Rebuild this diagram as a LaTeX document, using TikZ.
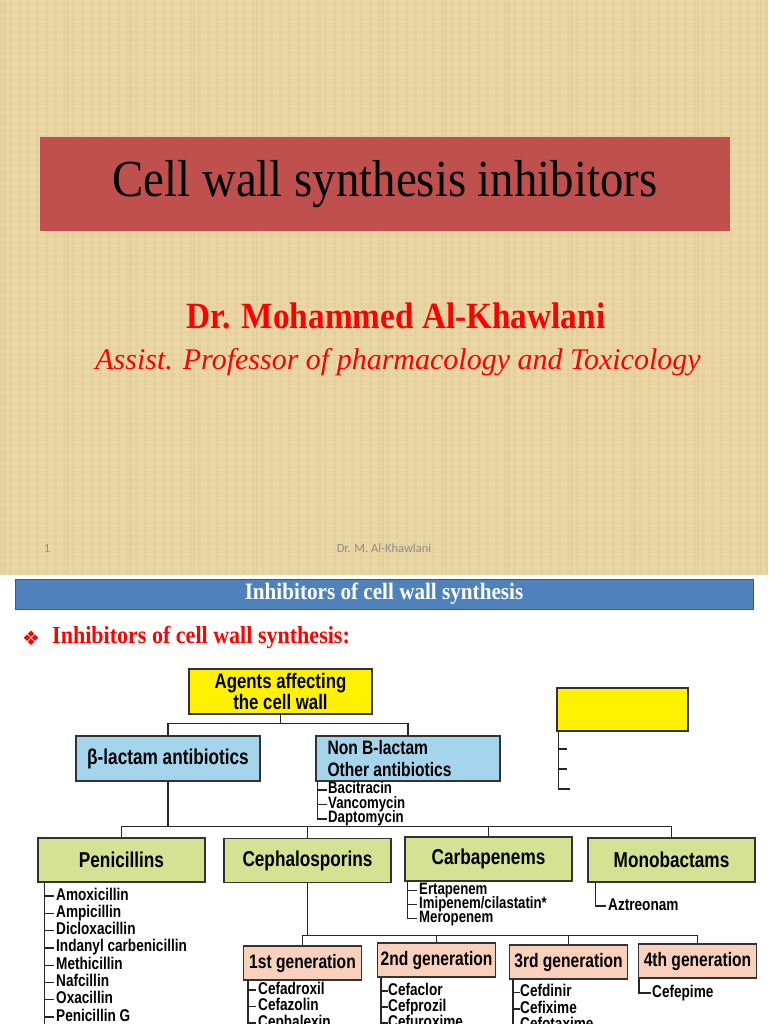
\documentclass[tikz,border=0pt]{standalone}
\usepackage{fontspec}
\setmainfont{Liberation Serif}
\newfontfamily\chartfont[FakeStretch=0.8]{Liberation Sans}
\newfontfamily\narrowserif[FakeStretch=0.9]{Liberation Serif}
\newfontfamily\dingfont{DejaVu Sans}
\newfontfamily\footfont{Carlito}

\definecolor{papyrus}{HTML}{E9D5A1}
\definecolor{papyrusdark}{HTML}{C9AB72}
\definecolor{titlered}{HTML}{C0504D}
\definecolor{bannerblue}{HTML}{4F81BD}
\definecolor{rootyellow}{HTML}{FFF200}
\definecolor{classblue}{HTML}{A5D5EC}
\definecolor{groupgreen}{HTML}{D5E193}
\definecolor{gensalmon}{HTML}{F9D0BC}
\definecolor{footgray}{HTML}{8C8C8C}

\tikzset{
  boxbase/.style={draw=black!80, line width=1.3pt, inner sep=0pt, align=center},
  rootbox/.style={boxbase, fill=rootyellow, minimum width=183pt, minimum height=45pt,
    font=\chartfont\bfseries\fontsize{21}{19}\selectfont},
  classbox/.style={boxbase, fill=classblue, minimum width=184pt, minimum height=45pt,
    font=\chartfont\bfseries\fontsize{21.5}{22}\selectfont},
  groupbox/.style={boxbase, fill=groupgreen, minimum width=167pt, minimum height=44pt,
    font=\chartfont\bfseries\fontsize{21.5}{22}\selectfont},
  genbox/.style={boxbase, fill=gensalmon, minimum width=118pt, minimum height=34pt,
    font=\chartfont\bfseries\fontsize{19.5}{20}\selectfont},
  drug/.style={anchor=west, inner xsep=2pt, inner ysep=0pt, text height=11pt, text depth=3pt,
    font=\chartfont\bfseries\fontsize{17}{17}\selectfont},
  wire/.style={line width=1.3pt, draw=black!85},
}

\begin{document}
\begin{tikzpicture}[x=1pt, y=-1pt]
    \useasboundingbox (0,0) rectangle (768,1024);
    \clip (0,0) rectangle (768,1024);

    % title slide
    \fill[papyrus] (0,0) rectangle (768,575);
    \foreach \x in {0,9,...,765} \fill[papyrusdark, opacity=0.10] (\x,0) rectangle ++(3,575);
    \foreach \x in {4,67,...,768} \fill[papyrusdark, opacity=0.20] (\x,0) rectangle ++(2,575);
    \foreach \y in {0,7,...,575} \fill[white, opacity=0.08] (0,\y) rectangle ++(768,2);

    \node[fill=titlered, minimum width=690pt, minimum height=94pt, font=\narrowserif\fontsize{52}{54}\selectfont] (title) at (385,184) {Cell wall synthesis inhibitors};
    \node[text=red, font=\narrowserif\bfseries\fontsize{37}{40}\selectfont] (author) at (396,316) {Dr. Mohammed Al-Khawlani};
    \node[text=red, font=\itshape\fontsize{30}{32}\selectfont] (position) at (398,362) {Assist. Professor of pharmacology and Toxicology};
    \node[text=footgray, font=\footfont\fontsize{12.5}{14}\selectfont] (pagenum) at (47,548) {1};
    \node[text=footgray, font=\footfont\fontsize{12.5}{14}\selectfont] (footer) at (384,548) {Dr. M. Al-Khawlani};

    % second slide
    \fill[white] (0,575) rectangle (768,1024);
    \node[fill=bannerblue, draw=bannerblue!70!black, line width=0.8pt, minimum width=738pt, minimum height=30pt,
      text=white, font=\narrowserif\bfseries\fontsize{23.5}{25}\selectfont] (banner) at (384,594) {Inhibitors of cell wall synthesis};
    \node[text=red, font=\dingfont\fontsize{20}{20}\selectfont] (bullet) at (31,638) {❖};
    \node[anchor=west, inner sep=0pt, text=red, font=\narrowserif\bfseries\fontsize{24.5}{26}\selectfont] (subhead) at (52,638) {Inhibitors of cell wall synthesis:};

    % tree
    \node[rootbox] (agents) at (280.5,691.5) {Agents affecting\\the cell wall};
    \node[rootbox, minimum width=131pt, minimum height=43pt] (blank) at (622.5,709.5) {};
    \node[classbox] (blactam) at (168,758.5) {β-lactam antibiotics};
    \node[classbox] (nonblac) at (408,758.5) {};
    \node[anchor=west, inner sep=0pt, align=left, font=\chartfont\bfseries\fontsize{19.5}{21.5}\selectfont] (nonblactext) at ([xshift=12pt]nonblac.west) {Non B-lactam\\Other antibiotics};

    \node[groupbox] (pen) at (121.5,860) {Penicillins};
    \node[groupbox] (ceph) at (307.5,860.5) {Cephalosporins};
    \node[groupbox] (carb) at (488.5,859) {Carbapenems};
    \node[groupbox] (mono) at (671.5,860) {Monobactams};

    \node[genbox] (gen1) at (302.5,963) {1st generation};
    \node[genbox] (gen2) at (436.5,960) {2nd generation};
    \node[genbox] (gen3) at (568.5,962) {3rd generation};
    \node[genbox] (gen4) at (697.5,961) {4th generation};

    \draw[wire] (agents.south) -- ++(0,9) coordinate (topbus);
    \foreach \b in {blactam,nonblac} \draw[wire] (topbus) -| (\b.north);
    \draw[wire] (blactam.south) -- ++(0,45) coordinate (groupbus);
    \foreach \g in {pen,ceph,carb,mono} \draw[wire] (groupbus) -| (\g.north);
    \draw[wire] (ceph.south) -- ++(0,52) coordinate (genbus);
    \foreach \g in {gen1,gen2,gen3,gen4} \draw[wire] (genbus) -| (\g.north);

    % empty list under the blank box
    \coordinate (blank1) at (567,749);
    \coordinate (blank2) at (567,769);
    \coordinate (blank3) at (570,789);
    \foreach \c in {blank1,blank2,blank3} \draw[wire] (blank.south west) ++(2,0) |- (\c);

    % drug lists
    \foreach \nm/\txt [count=\i] in {baci/Bacitracin, vanco/Vancomycin, dapto/Daptomycin} {
        \node[drug, inner xsep=1pt, text height=10pt, text depth=3pt, font=\chartfont\bfseries\fontsize{16.5}{16}\selectfont] (\nm) at (327,775.5+14.5*\i) {\txt};
        \draw[wire] (nonblac.south west) ++(2,0) |- (\nm.west);
    }
    \draw[wire] (pen.south west) ++(7,0) -- ++(0,160);
    \foreach \nm/\txt [count=\i] in {amox/Amoxicillin, ampi/Ampicillin, diclox/Dicloxacillin, indan/Indanyl carbenicillin,
        methi/Methicillin, nafci/Nafcillin, oxaci/Oxacillin, pencg/Penicillin G} {
        \node[drug] (\nm) at (54,878.7+17.3*\i) {\txt};
        \draw[wire] (pen.south west) ++(7,0) |- (\nm.west);
    }
    \foreach \nm/\txt [count=\i] in {erta/Ertapenem, imi/{Imipenem/cilastatin*}, mero/Meropenem} {
        \node[drug, text height=9.5pt, text depth=2.5pt, font=\chartfont\bfseries\fontsize{16.5}{14}\selectfont] (\nm) at (417,876.5+14*\i) {\txt};
        \draw[wire] (carb.south west) ++(3,0) |- (\nm.west);
    }
    \node[drug] (aztreo) at (606,906) {Aztreonam};
    \draw[wire] (mono.south west) ++(8,0) |- (aztreo.west);

    \draw[wire] (gen1.south west) ++(5,0) -- ++(0,60);
    \foreach \nm/\txt [count=\i] in {cefadr/Cefadroxil, cefaz/Cefazolin, cephal/Cephalexin} {
        \node[drug] (\nm) at (256,973.5+16.5*\i) {\txt};
        \draw[wire] (gen1.south west) ++(5,0) |- (\nm.west);
    }
    \draw[wire] (gen2.south west) ++(4,0) -- ++(0,60);
    \foreach \nm/\txt [count=\i] in {cefac/Cefaclor, cefpro/Cefprozil, cefur/Cefuroxime} {
        \node[drug, inner xsep=0pt] (\nm) at (388,975+16*\i) {\txt};
        \draw[wire] (gen2.south west) ++(4,0) |- (\nm.west);
    }
    \draw[wire] (gen3.south west) ++(4,0) -- ++(0,60);
    \foreach \nm/\txt [count=\i] in {cefdin/Cefdinir, cefix/Cefixime, cefot/Cefotaxime} {
        \node[drug, inner xsep=0pt] (\nm) at (520,976+16.5*\i) {\txt};
        \draw[wire] (gen3.south west) ++(4,0) |- (\nm.west);
    }
    \node[drug, inner xsep=1pt] (cefep) at (651,993) {Cefepime};
    \draw[wire] (gen4.south west) ++(1,0) |- (cefep.west);
\end{tikzpicture}
\end{document}
